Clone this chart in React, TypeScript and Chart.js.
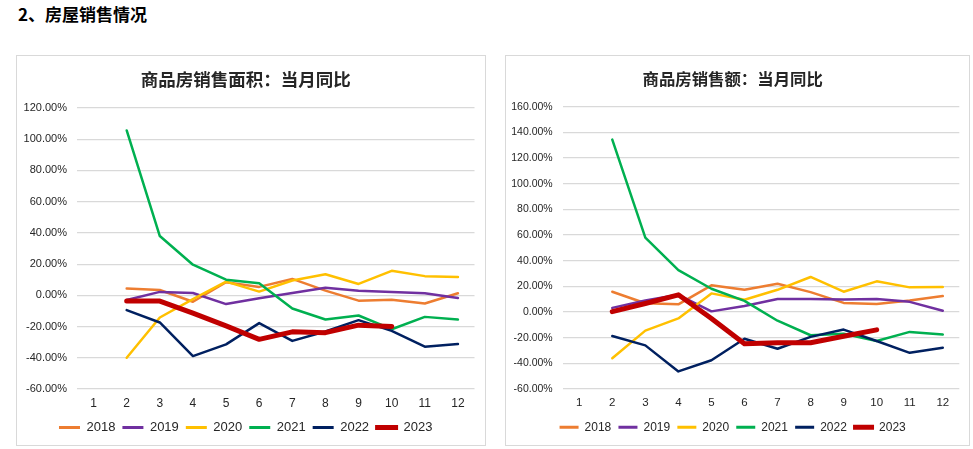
import React, { useEffect, useRef } from 'react';
import { Chart, registerables } from 'chart.js';

Chart.register(...registerables);

// ---------- data ----------
const months = ['1', '2', '3', '4', '5', '6', '7', '8', '9', '10', '11', '12'];
const years = ['2018', '2019', '2020', '2021', '2022', '2023'];
const yearColors = ['#ED7D31', '#7030A0', '#FFC000', '#00B050', '#002060', '#C00000'];
const yearWidths = [2.5, 2.5, 2.5, 2.5, 2.5, 5];

// 商品房销售面积：当月同比 (%)
const area2018 = [null, 4.3, 3.4, -4.1, 8.4, 5.4, 10.5, 3.0, -3.4, -2.8, -5.2, 1.3];
const area2019 = [null, -3.0, 2.2, 1.5, -5.6, -1.9, 1.5, 4.9, 3.0, 2.2, 1.3, -1.7];
const area2020 = [null, -40.0, -14.2, -2.4, 8.8, 2.4, 9.5, 13.5, 7.3, 15.7, 12.3, 11.8];
const area2021 = [null, 105.6, 38.0, 19.6, 10.0, 7.7, -8.4, -15.5, -12.9, -21.7, -13.8, -15.5];
const area2022 = [null, -9.5, -17.4, -38.9, -31.4, -17.8, -29.2, -23.2, -15.9, -22.8, -32.9, -31.2];
const area2023 = [null, -3.7, -3.7, -11.4, -19.6, -28.2, -23.4, -23.9, -19.1, -20.0, null, null];

// 商品房销售额：当月同比 (%)
const sales2018 = [null, 15.8, 6.8, 6.0, 20.8, 17.3, 22.0, 15.5, 7.1, 6.3, 8.9, 12.4];
const sales2019 = [null, 3.2, 8.9, 13.4, 0.5, 4.7, 10.2, 10.2, 9.7, 10.2, 7.9, 1.0];
const sales2020 = [null, -36.0, -14.5, -5.0, 14.5, 9.5, 17.3, 27.3, 15.8, 23.9, 19.2, 19.4];
const sales2021 = [null, 134.3, 58.0, 32.6, 18.1, 8.7, -6.8, -18.1, -17.0, -22.6, -15.5, -17.6];
const sales2022 = [null, -18.7, -26.0, -46.3, -37.6, -20.8, -28.6, -19.4, -13.7, -22.6, -31.8, -27.9];
const sales2023 = [null, 0.3, 6.6, 13.4, -5.0, -24.7, -23.9, -23.9, -18.9, -13.9, null, null];

const areaTicks = { min: -60, max: 120, step: 20 };
const salesTicks = { min: -60, max: 160, step: 20 };

const areaSeries = [area2018, area2019, area2020, area2021, area2022, area2023];
const salesSeries = [sales2018, sales2019, sales2020, sales2021, sales2022, sales2023];

type Cfg = {
  title: string;
  series: (number | null)[][];
  ticks: { min: number; max: number; step: number };
  width: number;
  height: number;
  left: number; // chart area left
  right: number; // right padding
  bottom: number; // bottom padding
  titleSize: number;
  titleTop: number;
  titleBottom: number;
  yFont: number;
  xFont: number;
  xHeight: number;
  legendFont: number;
  legendBox: number;
  legendPad: number;
};

function LineChart({ cfg }: { cfg: Cfg }) {
  const ref = useRef<HTMLCanvasElement | null>(null);
  useEffect(() => {
    if (!ref.current) return;
    const chart = new Chart(ref.current, {
      type: 'line',
      data: {
        labels: months,
        datasets: years.map((y, i) => ({
          label: y,
          data: cfg.series[i],
          borderColor: yearColors[i],
          backgroundColor: yearColors[i],
          borderWidth: yearWidths[i],
          pointRadius: 0,
          pointHoverRadius: 0,
          tension: 0,
          borderJoinStyle: 'round' as const,
          borderCapStyle: 'round' as const,
          spanGaps: false,
          order: i === 5 ? 0 : 6 - i,
        })),
      },
      options: {
        responsive: false,
        devicePixelRatio: 1,
        animation: false,
        layout: { padding: { left: 0, right: cfg.right, top: 0, bottom: cfg.bottom } },
        plugins: {
          tooltip: { enabled: false },
          title: {
            display: true,
            text: cfg.title,
            color: '#262626',
            font: { family: '"Noto Sans CJK SC", sans-serif', size: cfg.titleSize, weight: 'bold' },
            padding: { top: cfg.titleTop, bottom: cfg.titleBottom },
          },
          legend: {
            display: true,
            position: 'bottom',
            labels: {
              color: '#262626',
              font: { family: '"Liberation Sans", Arial, sans-serif', size: cfg.legendFont },
              boxWidth: cfg.legendBox,
              boxHeight: 3,
              padding: cfg.legendPad,
              generateLabels: (c: any) =>
                c.data.datasets.map((d: any, i: number) => ({
                  text: d.label,
                  fillStyle: yearColors[i],
                  strokeStyle: yearColors[i],
                  lineWidth: i === 5 ? 2 : 0,
                  hidden: false,
                  datasetIndex: i,
                  fontColor: '#262626',
                })),
            },
          },
        },
        scales: {
          x: {
            offset: true,
            grid: { display: false, drawTicks: false, offset: true },
            border: { display: false },
            ticks: {
              color: '#262626',
              font: { family: '"Liberation Sans", Arial, sans-serif', size: cfg.xFont },
              padding: 7,
              maxRotation: 0,
              autoSkip: false,
            },
            afterFit: (s: any) => {
              s.height = cfg.xHeight;
            },
          },
          y: {
            min: cfg.ticks.min,
            max: cfg.ticks.max,
            grid: { color: '#d9d9d9', lineWidth: 1.2, drawTicks: false },
            border: { display: false },
            ticks: {
              stepSize: cfg.ticks.step,
              color: '#262626',
              font: { family: '"Liberation Sans", Arial, sans-serif', size: cfg.yFont },
              padding: 10,
              callback: (v: any) => Number(v).toFixed(2) + '%',
            },
            afterFit: (s: any) => {
              s.width = cfg.left;
            },
          },
        },
      },
    });
    return () => chart.destroy();
  }, [cfg]);
  return <canvas ref={ref} width={cfg.width} height={cfg.height} style={{ display: 'block', width: cfg.width, height: cfg.height }} />;
}

const leftCfg: Cfg = {
  title: '商品房销售面积：当月同比',
  series: areaSeries,
  ticks: areaTicks,
  width: 468,
  height: 389,
  left: 60,
  right: 10.5,
  bottom: 1,
  titleSize: 17.5,
  titleTop: 13,
  titleBottom: 18,
  yFont: 11,
  xFont: 12,
  xHeight: 25,
  legendFont: 13,
  legendBox: 21,
  legendPad: 7,
};

const rightCfg: Cfg = {
  title: '商品房销售额：当月同比',
  series: salesSeries,
  ticks: salesTicks,
  width: 463,
  height: 389,
  left: 56.7,
  right: 9.7,
  bottom: 1.8,
  titleSize: 16.4,
  titleTop: 13,
  titleBottom: 18,
  yFont: 10.5,
  xFont: 11.5,
  xHeight: 25,
  legendFont: 12,
  legendBox: 19,
  legendPad: 7.2,
};

export default function App() {
  return (
    <div style={{ position: 'absolute', left: 0, top: 0, width: 973, height: 449, background: '#fff', overflow: 'hidden' }}>
      <div
        style={{
          position: 'absolute',
          left: 18,
          top: 3,
          fontFamily: '"Noto Sans CJK SC", sans-serif',
          fontWeight: 'bold',
          fontSize: 17,
          lineHeight: '22px',
          color: '#000',
          whiteSpace: 'nowrap',
        }}
      >
        2、房屋销售情况
      </div>
      <div style={{ position: 'absolute', left: 16, top: 55, width: 470, height: 391, border: '1px solid #d9d9d9', boxSizing: 'border-box' }}>
        <LineChart cfg={leftCfg} />
      </div>
      <div style={{ position: 'absolute', left: 505, top: 55, width: 465, height: 391, border: '1px solid #d9d9d9', boxSizing: 'border-box' }}>
        <LineChart cfg={rightCfg} />
      </div>
    </div>
  );
}
